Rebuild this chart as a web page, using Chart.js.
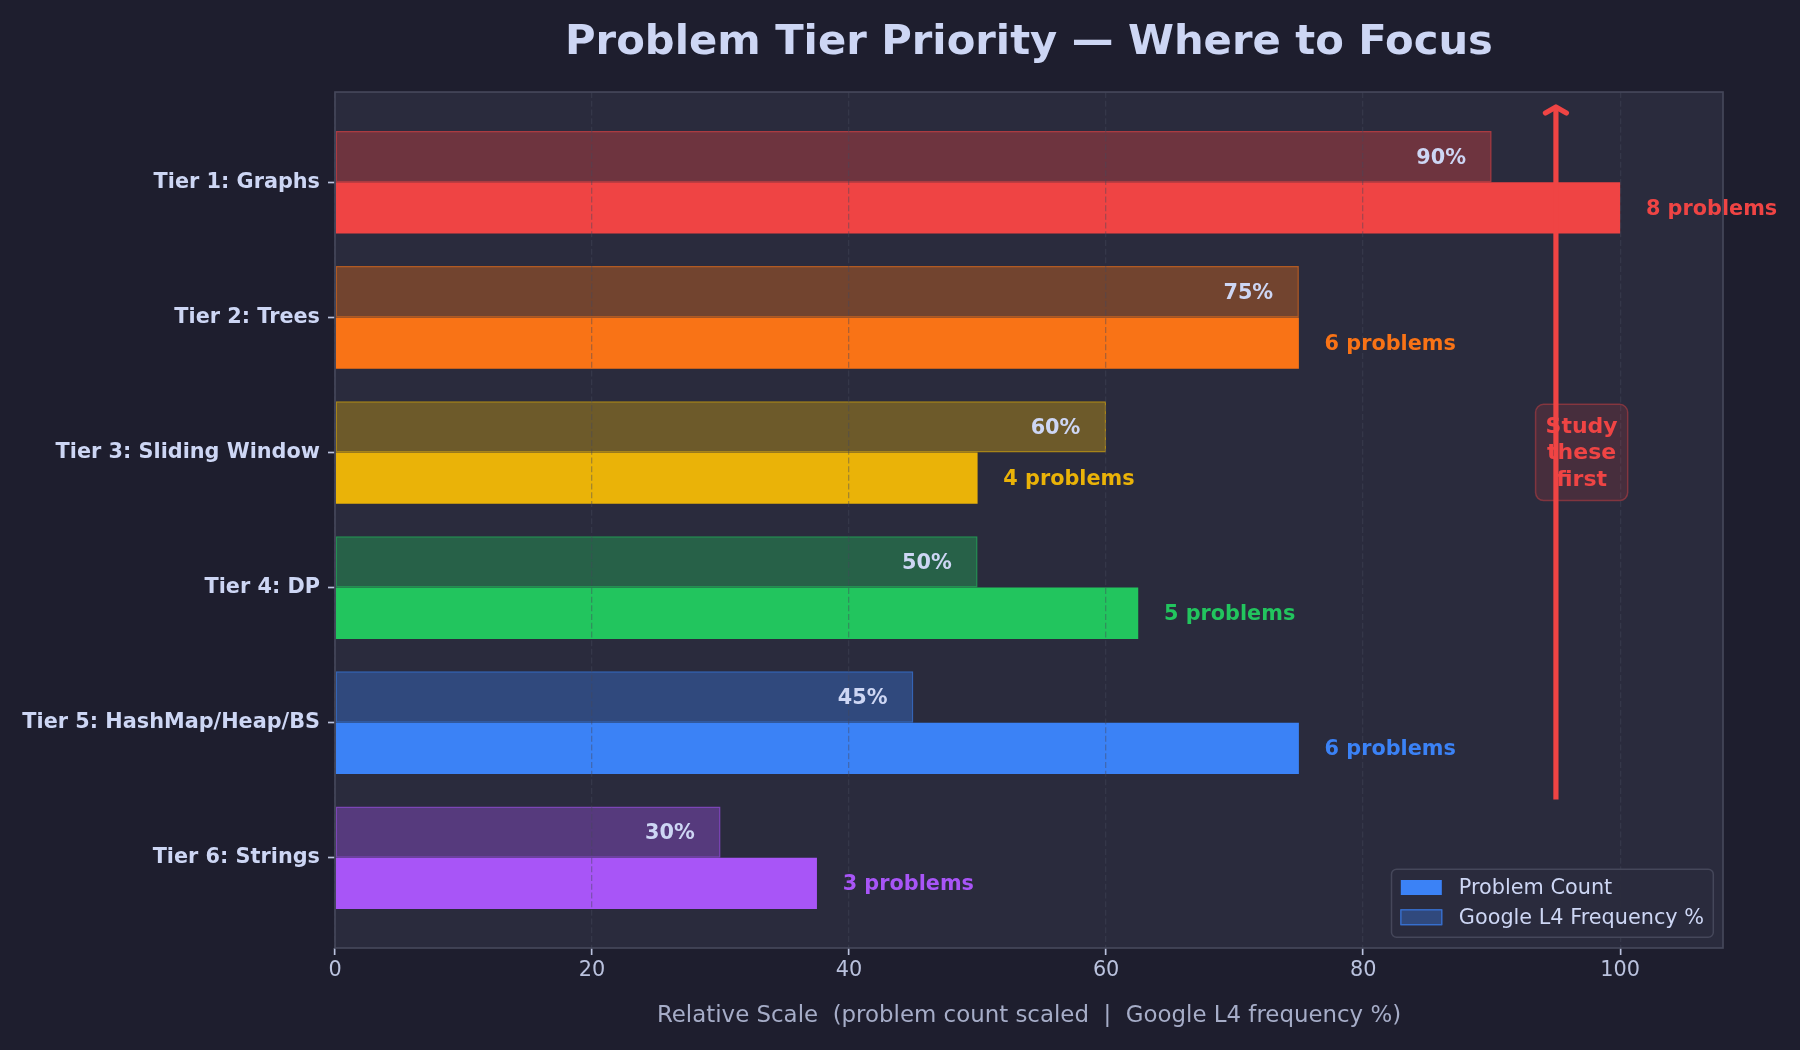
<!DOCTYPE html>
<html>
<head>
<meta charset="utf-8">
<script src="https://cdn.jsdelivr.net/npm/chart.js@4.4.1/dist/chart.umd.min.js"></script>
<style>
  html, body { margin: 0; padding: 0; background: #1e1e2e; }
  #wrap { width: 1800px; height: 1050px; }
</style>
</head>
<body>
<div id="wrap"><canvas id="c" width="1800" height="1050"></canvas></div>
<script>
// ---- data ----
const categories = ['Tier 1: Graphs', 'Tier 2: Trees', 'Tier 3: Sliding Window', 'Tier 4: DP', 'Tier 5: HashMap/Heap/BS', 'Tier 6: Strings'];
const problemCounts = [8, 6, 4, 5, 6, 3];
const countScaled = [100, 75, 50, 62.5, 75, 37.5];
const frequencyPct = [90, 75, 60, 50, 45, 30];
const tierColors = ['#ef4444', '#f97316', '#eab308', '#22c55e', '#3b82f6', '#a855f7'];
const xTicks = [0, 20, 40, 60, 80, 100];
const seriesNames = ['Problem Count', 'Google L4 Frequency %'];
const annotationLines = ['Study', 'these', 'first'];
const chartTitle = 'Problem Tier Priority \u2014 Where to Focus';
const xTitle = 'Relative Scale  (problem count scaled  |  Google L4 frequency %)';

// ---- style ----
const FONT = '"DejaVu Sans", "Liberation Sans", sans-serif';
const TEXT = '#cdd6f4';
const SUB = '#bac2de';
const FIG_BG = '#1e1e2e';
const AX_BG = '#2a2b3d';
const SPINE = '#45475a';
const LEGEND_COLOR = '#3b82f6';

function rgba(hex, a) {
  const n = parseInt(hex.slice(1), 16);
  return `rgba(${(n >> 16) & 255},${(n >> 8) & 255},${n & 255},${a})`;
}

Chart.defaults.font.family = FONT;

const bgPlugin = {
  id: 'bg',
  beforeDraw(chart) {
    const { ctx, chartArea: a } = chart;
    ctx.save();
    ctx.fillStyle = FIG_BG;
    ctx.fillRect(0, 0, chart.width, chart.height);
    ctx.fillStyle = AX_BG;
    ctx.fillRect(a.left, a.top, a.right - a.left, a.bottom - a.top);
    ctx.restore();
  }
};

function roundRect(ctx, x, y, w, h, r) {
  ctx.beginPath();
  ctx.moveTo(x + r, y);
  ctx.lineTo(x + w - r, y);
  ctx.arcTo(x + w, y, x + w, y + r, r);
  ctx.lineTo(x + w, y + h - r);
  ctx.arcTo(x + w, y + h, x + w - r, y + h, r);
  ctx.lineTo(x + r, y + h);
  ctx.arcTo(x, y + h, x, y + h - r, r);
  ctx.lineTo(x, y + r);
  ctx.arcTo(x, y, x + r, y, r);
  ctx.closePath();
}

const overlayPlugin = {
  id: 'overlay',
  afterDraw(chart) {
    const { ctx, chartArea: a } = chart;
    const xs = chart.scales.x, ys = chart.scales.y;
    const mFreq = chart.getDatasetMeta(0), mCount = chart.getDatasetMeta(1);
    ctx.save();

    // value labels
    ctx.font = `bold 20.8px ${FONT}`;
    ctx.textBaseline = 'middle';
    categories.forEach((_, i) => {
      ctx.textAlign = 'right';
      ctx.fillStyle = TEXT;
      ctx.fillText(frequencyPct[i] + '%', xs.getPixelForValue(frequencyPct[i] - 2), mFreq.data[i].y + 1.5);
      ctx.textAlign = 'left';
      ctx.fillStyle = tierColors[i];
      ctx.fillText(problemCounts[i] + ' problems', xs.getPixelForValue(countScaled[i] + 2), mCount.data[i].y + 1.5);
    });

    // spines
    ctx.strokeStyle = SPINE;
    ctx.lineWidth = 1.67;
    ctx.strokeRect(a.left, a.top, a.right - a.left, a.bottom - a.top);

    // annotation box
    ctx.font = `bold 22px ${FONT}`;
    const lh = 26.4;
    const cx = xs.getPixelForValue(97), cy = ys.getPixelForValue(2);
    const tw = Math.max(...annotationLines.map(t => ctx.measureText(t).width));
    const bw = tw + 20, bh = lh * annotationLines.length + 17;
    roundRect(ctx, cx - bw / 2, cy - bh / 2, bw, bh, 8);
    ctx.fillStyle = rgba('#ef4444', 0.15);
    ctx.fill();
    ctx.strokeStyle = rgba('#ef4444', 0.4);
    ctx.lineWidth = 1.5;
    ctx.stroke();
    ctx.fillStyle = '#ef4444';
    ctx.textAlign = 'center';
    ctx.textBaseline = 'middle';
    annotationLines.forEach((t, k) => {
      ctx.fillText(t, cx, cy + 1 + (k - (annotationLines.length - 1) / 2) * lh);
    });

    // arrow
    const ax = xs.getPixelForValue(95);
    const yTip = ys.getPixelForValue(-0.6) + 4.2;
    const yTail = ys.getPixelForValue(4.6) - 4.2;
    ctx.strokeStyle = '#ef4444';
    ctx.lineWidth = 5.2;
    ctx.lineCap = 'butt';
    ctx.beginPath();
    ctx.moveTo(ax, yTail);
    ctx.lineTo(ax, yTip + 1);
    ctx.stroke();
    ctx.lineCap = 'round';
    ctx.lineJoin = 'round';
    ctx.beginPath();
    ctx.moveTo(ax - 10.5, yTip + 7.5);
    ctx.lineTo(ax, yTip + 1.5);
    ctx.lineTo(ax + 10.5, yTip + 7.5);
    ctx.stroke();

    // legend
    ctx.font = `20.8px ${FONT}`;
    const textW = Math.max(...seriesNames.map(t => ctx.measureText(t).width));
    const lw = 9.3 + 41 + 17 + textW + 9.3;
    const lhgt = 68;
    const lx = a.right - 9.7 - lw;
    const ly = a.bottom - 10.7 - lhgt;
    roundRect(ctx, lx, ly, lw, lhgt, 5);
    ctx.fillStyle = 'rgba(42,43,61,0.92)';
    ctx.fill();
    ctx.strokeStyle = SPINE;
    ctx.lineWidth = 1.5;
    ctx.stroke();
    const rows = [ly + 18.2, ly + 48];
    ctx.fillStyle = LEGEND_COLOR;
    ctx.fillRect(lx + 9.3, rows[0] - 7.5, 41, 15);
    ctx.fillStyle = rgba(LEGEND_COLOR, 0.35);
    ctx.fillRect(lx + 9.3, rows[1] - 7.5, 41, 15);
    ctx.strokeStyle = rgba(LEGEND_COLOR, 0.7);
    ctx.lineWidth = 1.5;
    ctx.strokeRect(lx + 9.3, rows[1] - 7.5, 41, 15);
    ctx.fillStyle = TEXT;
    ctx.textAlign = 'left';
    ctx.textBaseline = 'middle';
    seriesNames.forEach((t, k) => ctx.fillText(t, lx + 9.3 + 41 + 17, rows[k] + 1));

    ctx.restore();
  }
};

new Chart(document.getElementById('c'), {
  type: 'bar',
  data: {
    datasets: [
      {
        label: seriesNames[1],
        data: frequencyPct.map((v, i) => ({ x: v, y: i })),
        backgroundColor: tierColors.map(c => rgba(c, 0.35)),
        borderColor: tierColors.map(c => rgba(c, 0.65)),
        borderWidth: 1.5,
        borderSkipped: false,
        categoryPercentage: 0.76,
        barPercentage: 1.0
      },
      {
        label: seriesNames[0],
        data: countScaled.map((v, i) => ({ x: v, y: i })),
        backgroundColor: tierColors,
        borderWidth: 0,
        categoryPercentage: 0.76,
        barPercentage: 1.0
      }
    ]
  },
  options: {
    indexAxis: 'y',
    responsive: false,
    devicePixelRatio: 1,
    animation: false,
    layout: { padding: { left: 0, right: 77, top: 0, bottom: 0 } },
    scales: {
      x: {
        type: 'linear',
        min: 0,
        max: 108,
        afterBuildTicks: s => { s.ticks = xTicks.map(v => ({ value: v })); },
        afterFit: s => { s.height = 102; },
        ticks: { color: SUB, font: { size: 20.8 }, padding: 3, maxRotation: 0, autoSkip: false },
        grid: { z: 1, color: 'rgba(69,71,90,0.42)', lineWidth: 1.3, drawTicks: true, tickLength: 7, tickColor: SUB, tickWidth: 1.67 },
        border: { display: false, dash: [6, 2.7] },
        title: { display: true, text: xTitle, color: '#a6adc8', font: { size: 22.9 }, padding: { top: 0, bottom: 20 } }
      },
      y: {
        type: 'linear',
        reverse: true,
        offset: false,
        min: -0.668,
        max: 5.668,
        afterBuildTicks: s => { s.ticks = categories.map((_, i) => ({ value: i })); },
        afterFit: s => { s.width = 335; },
        ticks: { autoSkip: false, callback: v => categories[v], color: TEXT, font: { size: 20.8, weight: 'bold' }, padding: 8 },
        grid: { offset: false, drawOnChartArea: false, drawTicks: true, tickLength: 7, tickWidth: 1.67, tickColor: SUB },
        border: { display: false }
      }
    },
    plugins: {
      legend: { display: false },
      tooltip: { enabled: false },
      title: {
        display: true,
        text: chartTitle,
        fullSize: false,
        color: TEXT,
        font: { size: 41.7, weight: 'bold' },
        padding: { top: 18.6, bottom: 23.4 }
      }
    }
  },
  plugins: [bgPlugin, overlayPlugin]
});
</script>
</body>
</html>
